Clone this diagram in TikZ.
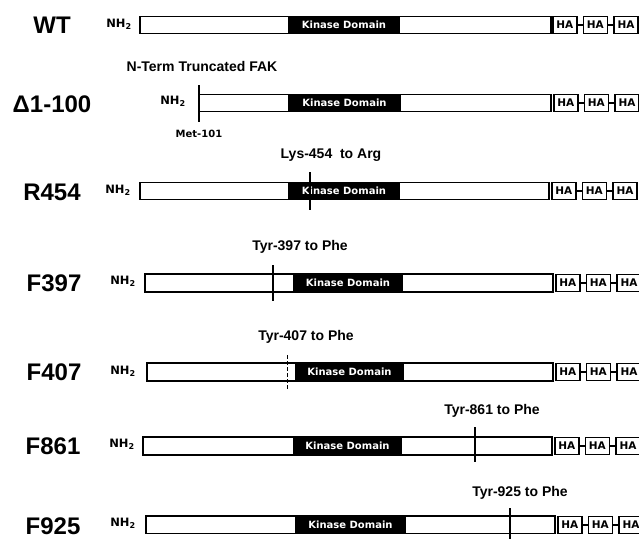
\documentclass[tikz,border=0pt]{standalone}
\usepackage{fontspec}
\setmainfont{Liberation Sans}
\newfontfamily\widesans{DejaVu Sans}
\usetikzlibrary{positioning}
\tikzset{
  rowlabel/.style={font=\fontsize{24}{24}\selectfont\bfseries,inner sep=0pt},
  sitelabel/.style={font=\fontsize{14}{14}\selectfont\bfseries,inner sep=0pt},
  ntermlabel/.style={font=\widesans\fontsize{11.5}{11.5}\selectfont\bfseries,inner sep=0pt},
  metlabel/.style={font=\widesans\fontsize{10}{10}\selectfont\bfseries,inner sep=0pt},
  protbar/.style={draw=black,fill=white,line width=1.6pt},
  kinase/.style={fill=black,text=white,minimum height=18pt,inner sep=0pt,font=\widesans\fontsize{10}{10}\selectfont\bfseries},
  hatag/.style={draw=black,fill=white,line width=1.6pt,minimum width=24pt,minimum height=17pt,inner sep=0pt,anchor=west,font=\widesans\fontsize{10.5}{10.5}\selectfont\bfseries},
  tagjoin/.style={line width=1.3pt},
  mutmark/.style={line width=1.6pt},
  cutmark/.style={line width=1.8pt}
}

\begin{document}
\begin{tikzpicture}[x=1pt,y=-1pt]
  \path[use as bounding box,fill=white] (0,0) rectangle (639,538);

  % WT
  \node[rowlabel] (wtname) at (52,25) {WT};
  \node[ntermlabel] (wtnh) at (119,24) {NH\textsubscript{2}};
  \draw[protbar] (140,16.5) rectangle (551,33.5);
  \node[kinase,minimum width=112pt] (wtkin) at (344,25) {Kinase Domain};
  \node[hatag] (wtha1) at (552,25) {HA};
  \node[hatag,right=5pt of wtha1] (wtha2) {HA};
  \node[hatag,right=5pt of wtha2] (wtha3) {HA};
  \draw[tagjoin] (wtha1) -- (wtha2);
  \draw[tagjoin] (wtha2) -- (wtha3);

  % delta 1-100
  \node[sitelabel] (dtitle) at (202,66) {N-Term Truncated FAK};
  \node[rowlabel] (dname) at (52,104) {Δ1-100};
  \node[ntermlabel] (dnh) at (173,101) {NH\textsubscript{2}};
  \draw[protbar] (199,94.5) rectangle (551,111.5);
  \node[kinase,minimum width=113pt] (dkin) at (344.5,103) {Kinase Domain};
  \draw[cutmark] (199,85) -- (199,122);
  \node[metlabel] (dmet) at (199,134) {Met-101};
  \node[hatag] (dha1) at (553,103) {HA};
  \node[hatag,right=5pt of dha1] (dha2) {HA};
  \node[hatag,right=5pt of dha2] (dha3) {HA};
  \draw[tagjoin] (dha1) -- (dha2);
  \draw[tagjoin] (dha2) -- (dha3);

  % R454
  \node[sitelabel] (rsite) at (331,155) {Lys-454\ \ to Arg};
  \node[rowlabel] (rname) at (52,192) {R454};
  \node[ntermlabel] (rnh) at (118,190) {NH\textsubscript{2}};
  \draw[protbar] (140,182.5) rectangle (549,199.5);
  \node[kinase,minimum width=112pt] (rkin) at (344,191) {Kinase Domain};
  \draw[mutmark] (310,172) -- (310,210);
  \node[hatag] (rha1) at (551,191) {HA};
  \node[hatag,right=5pt of rha1] (rha2) {HA};
  \node[hatag,right=5pt of rha2] (rha3) {HA};
  \draw[tagjoin] (rha1) -- (rha2);
  \draw[tagjoin] (rha2) -- (rha3);

  % F397
  \node[sitelabel] (f3site) at (300,247) {Tyr-397 to Phe};
  \node[rowlabel] (f3name) at (54,283) {F397};
  \node[ntermlabel] (f3nh) at (123,281) {NH\textsubscript{2}};
  \draw[protbar] (145,274) rectangle (553,292);
  \node[kinase,minimum width=110pt] (f3kin) at (348,283) {Kinase Domain};
  \draw[mutmark] (273,265) -- (273,301);
  \node[hatag] (f3ha1) at (555,283) {HA};
  \node[hatag,right=5pt of f3ha1] (f3ha2) {HA};
  \node[hatag,right=5pt of f3ha2] (f3ha3) {HA};
  \draw[tagjoin] (f3ha1) -- (f3ha2);
  \draw[tagjoin] (f3ha2) -- (f3ha3);

  % F407
  \node[sitelabel] (f4site) at (306,337) {Tyr-407 to Phe};
  \node[rowlabel] (f4name) at (54,372) {F407};
  \node[ntermlabel] (f4nh) at (123,371) {NH\textsubscript{2}};
  \draw[protbar] (147,363) rectangle (553,381);
  \node[kinase,minimum width=109pt] (f4kin) at (349.5,372) {Kinase Domain};
  \draw[mutmark,line width=1pt,dash pattern=on 4pt off 2pt] (287,355) -- (287,390);
  \node[hatag] (f4ha1) at (555,372) {HA};
  \node[hatag,right=5pt of f4ha1] (f4ha2) {HA};
  \node[hatag,right=5pt of f4ha2] (f4ha3) {HA};
  \draw[tagjoin] (f4ha1) -- (f4ha2);
  \draw[tagjoin] (f4ha2) -- (f4ha3);

  % F861
  \node[sitelabel] (f8site) at (492,411) {Tyr-861 to Phe};
  \node[rowlabel] (f8name) at (53,446) {F861};
  \node[ntermlabel] (f8nh) at (122,444) {NH\textsubscript{2}};
  \draw[protbar] (143,437) rectangle (552,455);
  \node[kinase,minimum width=109pt] (f8kin) at (347.5,446) {Kinase Domain};
  \draw[mutmark] (475,427) -- (475,462);
  \node[hatag] (f8ha1) at (554,446) {HA};
  \node[hatag,right=5pt of f8ha1] (f8ha2) {HA};
  \node[hatag,right=5pt of f8ha2] (f8ha3) {HA};
  \draw[tagjoin] (f8ha1) -- (f8ha2);
  \draw[tagjoin] (f8ha2) -- (f8ha3);

  % F925
  \node[sitelabel] (f9site) at (520,493) {Tyr-925 to Phe};
  \node[rowlabel] (f9name) at (53,526) {F925};
  \node[ntermlabel] (f9nh) at (123,523) {NH\textsubscript{2}};
  \draw[protbar] (146,516) rectangle (555,533.5);
  \node[kinase,minimum width=111pt] (f9kin) at (350.5,525) {Kinase Domain};
  \draw[mutmark] (510,508) -- (510,540);
  \node[hatag] (f9ha1) at (557,525) {HA};
  \node[hatag,right=5pt of f9ha1] (f9ha2) {HA};
  \node[hatag,right=5pt of f9ha2] (f9ha3) {HA};
  \draw[tagjoin] (f9ha1) -- (f9ha2);
  \draw[tagjoin] (f9ha2) -- (f9ha3);
\end{tikzpicture}
\end{document}
